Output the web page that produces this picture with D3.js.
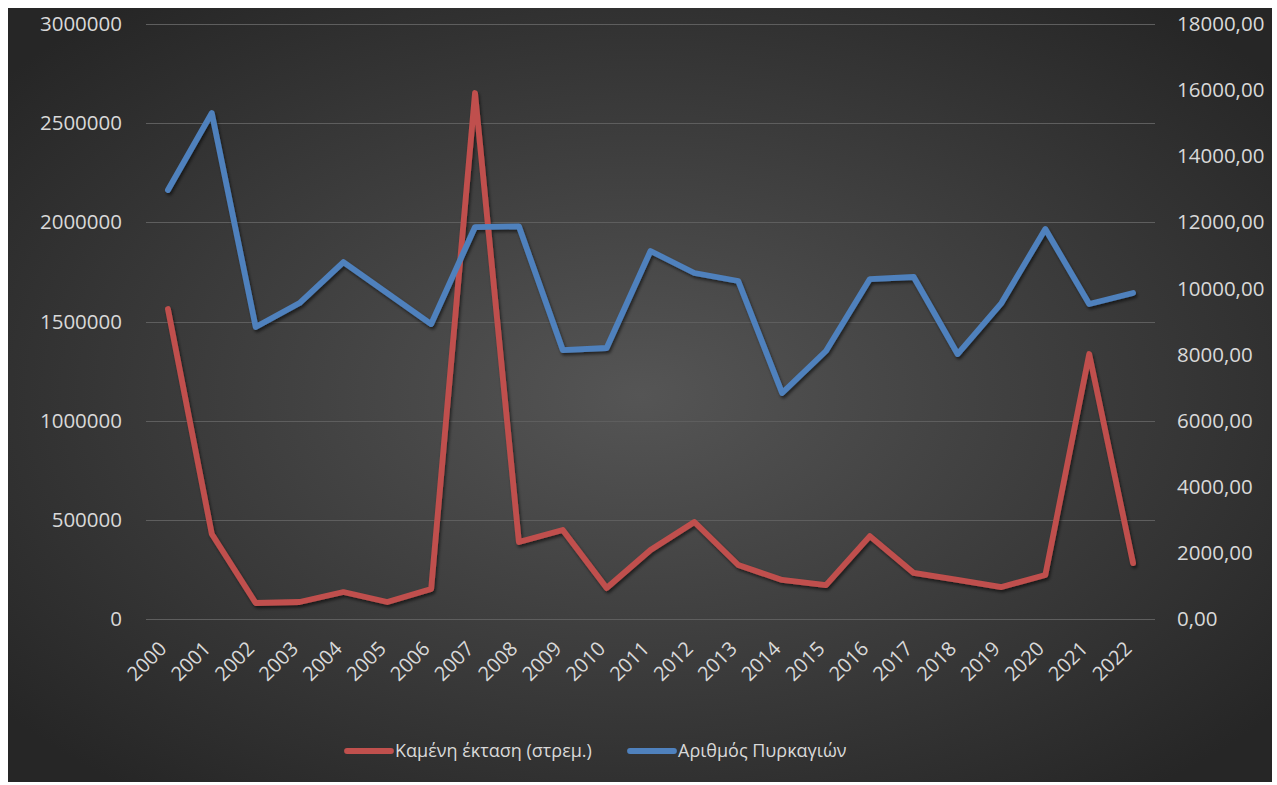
<!DOCTYPE html>
<html>
<head>
<meta charset="utf-8">
<script src="https://cdn.jsdelivr.net/npm/d3@7"></script>
<style>
html,body{margin:0;padding:0;background:#fff;}
svg{display:block;}
</style>
</head>
<body>
<svg id="chart" width="1277" height="785"></svg>
<script>
const years = ["2000","2001","2002","2003","2004","2005","2006","2007","2008","2009","2010","2011","2012","2013","2014","2015","2016","2017","2018","2019","2020","2021","2022"];
const burnedArea = [1563000,428600,80700,85700,136000,85700,151000,2652000,388000,449000,156000,348000,489000,272000,197000,171000,418000,232000,197000,161000,222000,1336000,282000];
const fireCount = [12978,15307,8833,9559,10799,9862,8924,11858,11880,8137,8198,11132,10467,10225,6837,8107,10285,10346,8016,9559,11798,9529,9862];
const leftTicks = [0,500000,1000000,1500000,2000000,2500000,3000000];
const rightTicks = [0,2000,4000,6000,8000,10000,12000,14000,16000,18000];
const seriesNames = ["Καμένη έκταση (στρεμ.)","Αριθμός Πυρκαγιών"];
const seriesColors = ["#C0504D","#4F81BD"];

const svg = d3.select("#chart");
const defs = svg.append("defs");
const rg = defs.append("radialGradient").attr("id","bg")
  .attr("cx","50%").attr("cy","50%").attr("r","65%");
rg.append("stop").attr("offset","0%").attr("stop-color","#555555");
rg.append("stop").attr("offset","100%").attr("stop-color","#262626");
const f = defs.append("filter").attr("id","shadow").attr("x","-10%").attr("y","-10%").attr("width","120%").attr("height","120%");
f.append("feDropShadow").attr("dx",1.5).attr("dy",2.5).attr("stdDeviation",1.8)
  .attr("flood-color","#000").attr("flood-opacity",0.55);

svg.append("rect").attr("x",8).attr("y",8).attr("width",1264).attr("height",774)
  .attr("fill","url(#bg)");

const L = 146, R = 1155, T = 24, B = 619;
const x = d3.scaleBand().domain(years).range([L,R]);
const yL = d3.scaleLinear().domain([0,3000000]).range([B,T]);
const yR = d3.scaleLinear().domain([0,18000]).range([B,T]);
const cx = d => x(d) + x.bandwidth()/2;

const font = "'Open Sans', sans-serif";
const txtColor = "#d9d9d9";

// gridlines
svg.append("g").selectAll("line").data(leftTicks).join("line")
  .attr("x1",L).attr("x2",R)
  .attr("y1",d=>Math.round(yL(d))+0.5).attr("y2",d=>Math.round(yL(d))+0.5)
  .attr("stroke","#5e5e5e").attr("stroke-width",1.2);

// left axis
const axL = svg.append("g").attr("transform",`translate(${L-24},0)`)
  .call(d3.axisLeft(yL).tickValues(leftTicks).tickFormat(d=>String(d)).tickSize(0).tickPadding(0));
axL.select(".domain").remove();
axL.selectAll("text").attr("fill",txtColor).style("font-family",font).style("font-size","20.5px");

// right axis
const fmtR = d => d3.format(".2f")(d).replace(".",",");
const axR = svg.append("g").attr("transform",`translate(${R+22},0)`)
  .call(d3.axisRight(yR).tickValues(rightTicks).tickFormat(fmtR).tickSize(0).tickPadding(0));
axR.select(".domain").remove();
axR.selectAll("text").attr("fill",txtColor).style("font-family",font).style("font-size","20.5px");

// x axis
const axX = svg.append("g").attr("transform",`translate(0,${B})`)
  .call(d3.axisBottom(x).tickSize(0).tickPadding(0));
axX.select(".domain").remove();
axX.selectAll("text")
  .attr("fill",txtColor).style("font-family",font).style("font-size","20px")
  .attr("text-anchor","end").attr("dy",0).attr("y",0)
  .attr("transform","translate(0,31) rotate(-45)");

// lines
const lineL = d3.line().x((d,i)=>cx(years[i])).y(d=>yL(d)).curve(d3.curveLinear);
const lineR = d3.line().x((d,i)=>cx(years[i])).y(d=>yR(d)).curve(d3.curveLinear);
const lg = svg.append("g").attr("filter","url(#shadow)");
lg.append("path").datum(burnedArea).attr("d",lineL)
  .attr("fill","none").attr("stroke",seriesColors[0]).attr("stroke-width",5.8)
  .attr("stroke-linejoin","round").attr("stroke-linecap","round");
lg.append("path").datum(fireCount).attr("d",lineR)
  .attr("fill","none").attr("stroke",seriesColors[1]).attr("stroke-width",5.8)
  .attr("stroke-linejoin","round").attr("stroke-linecap","round");

// legend
const legendX = [345, 628];
const leg = svg.append("g");
seriesNames.forEach((n,i)=>{
  leg.append("line").attr("x1",legendX[i]+2).attr("x2",legendX[i]+46)
    .attr("y1",751).attr("y2",751)
    .attr("stroke",seriesColors[i]).attr("stroke-width",5.8).attr("stroke-linecap","round");
  leg.append("text").attr("x",legendX[i]+50).attr("y",751).attr("dy","0.35em")
    .attr("fill",txtColor).style("font-family",font).style("font-size","18px").text(n);
});
</script>
</body>
</html>
